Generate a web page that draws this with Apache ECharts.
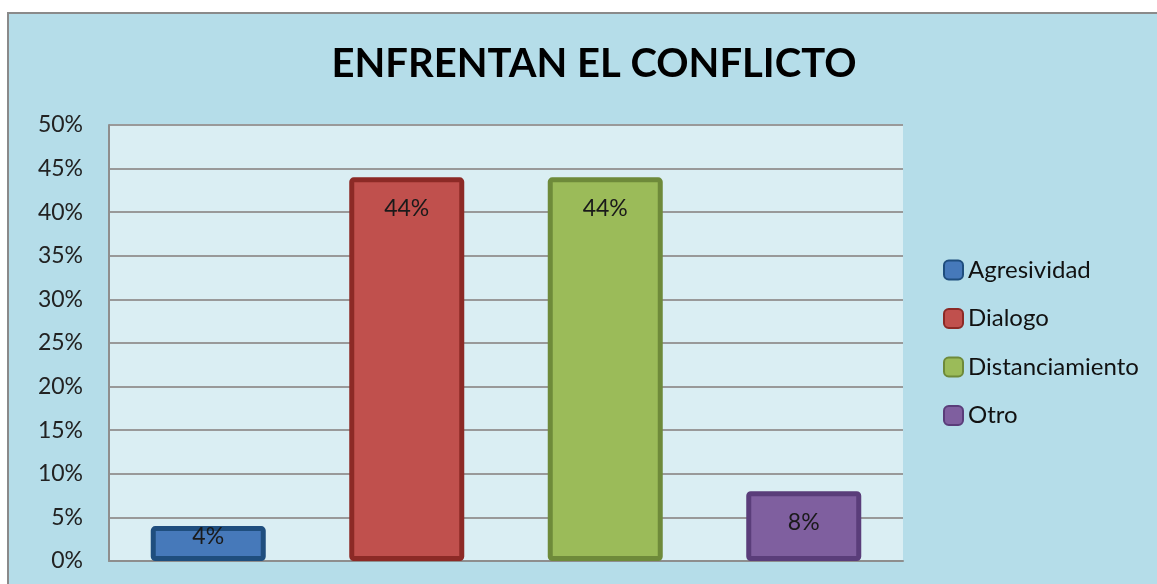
<!DOCTYPE html>
<html>
<head>
<meta charset="utf-8">
<script src="https://cdn.jsdelivr.net/npm/echarts@6/dist/echarts.min.js"></script>
<style>
html,body{margin:0;padding:0;background:#ffffff;}
#chart{width:1157px;height:584px;}
</style>
</head>
<body>
<div id="chart"></div>
<script>
var titleText = 'ENFRENTAN EL CONFLICTO';
var categories = ['Agresividad', 'Dialogo', 'Distanciamiento', 'Otro'];
var values = [4, 44, 44, 8];
var yMin = 0, yMax = 50, yStep = 5;

var fills = ['#4679BA', '#C0504D', '#9BBB59', '#7F5F9F'];
var borders = ['#1F4E7E', '#8C2A26', '#6E8A3A', '#5A3D7A'];
var FONT = 'Lato, "Open Sans", sans-serif';

var series = categories.map(function (name, i) {
  var data = categories.map(function (c, j) { return j === i ? values[j] : '-'; });
  return {
    name: name,
    type: 'bar',
    stack: 'all',
    barWidth: 115,
    data: data,
    itemStyle: { color: fills[i], borderColor: borders[i], borderWidth: 5, borderRadius: 2 },
    label: {
      show: true,
      position: 'insideTop',
      distance: values[i] < 5 ? -1 : 20,
      formatter: '{c}%',
      fontFamily: FONT,
      fontSize: 23,
      color: '#1a1a1a'
    }
  };
});

var chart = echarts.init(document.getElementById('chart'), null, { renderer: 'canvas' });
chart.setOption({
  backgroundColor: '#ffffff',
  animation: false,
  graphic: [{
    type: 'rect',
    z: -10,
    shape: { x: 8, y: 13, width: 1200, height: 700 },
    style: { fill: '#B5DDE9', stroke: '#8A8A8A', lineWidth: 2 }
  }],
  title: {
    text: titleText,
    left: 589,
    textAlign: 'center',
    top: 39,
    textStyle: { fontFamily: FONT, fontWeight: 'bold', fontSize: 40, color: '#000' }
  },
  legend: {
    orient: 'vertical',
    left: 938,
    top: 252,
    itemWidth: 19,
    itemHeight: 19,
    itemGap: 22.5,
    data: categories,
    textStyle: { fontFamily: FONT, fontSize: 24, color: '#111', lineHeight: 26 }
  },
  grid: {
    left: 109, right: 254, top: 125, bottom: 23,
    show: true, backgroundColor: '#DAEEF3', borderWidth: 0
  },
  xAxis: {
    type: 'category',
    data: categories,
    axisLine: { show: true, lineStyle: { color: '#8E8E8E', width: 2 } },
    axisTick: { show: false },
    axisLabel: { show: false }
  },
  yAxis: {
    type: 'value',
    min: yMin, max: yMax, interval: yStep,
    axisLine: { show: true, lineStyle: { color: '#8E8E8E', width: 2 } },
    axisTick: { show: false },
    splitLine: { show: true, lineStyle: { color: '#999999', width: 2 } },
    axisLabel: { formatter: '{value}%', margin: 26, fontFamily: FONT, fontSize: 23, color: '#222' }
  },
  series: series
});
</script>
</body>
</html>
